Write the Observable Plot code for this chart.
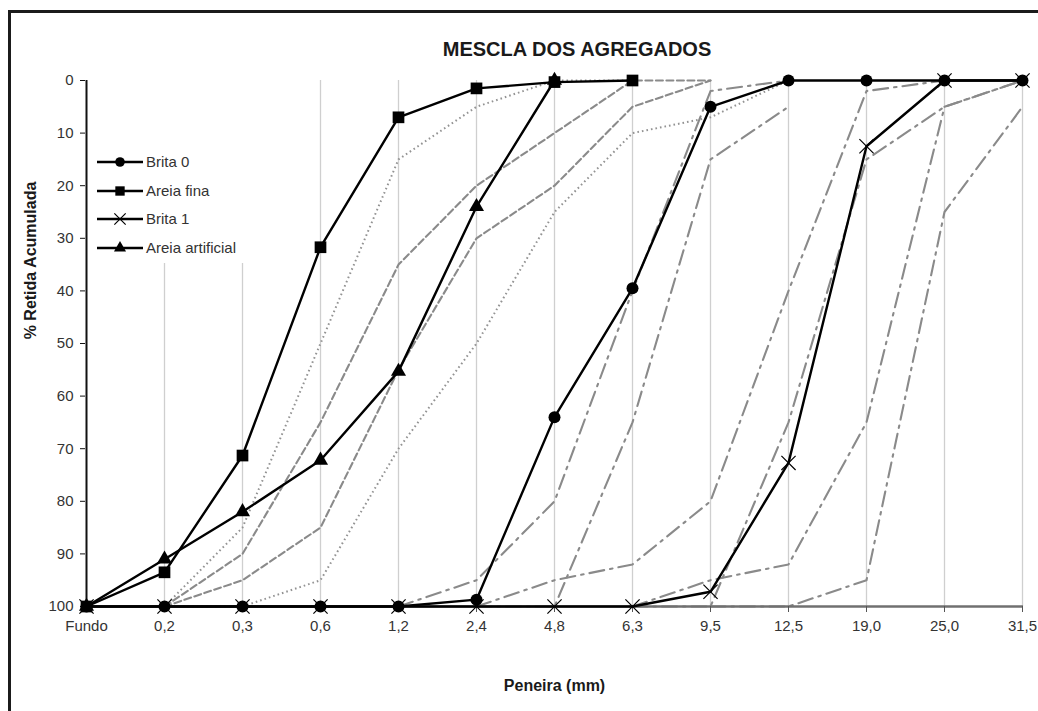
<!DOCTYPE html>
<html>
<head>
<meta charset="utf-8">
<script src="https://cdn.jsdelivr.net/npm/d3@7"></script>
<script src="https://cdn.jsdelivr.net/npm/@observablehq/plot@0.6"></script>
<style>
body{margin:0;background:#fff;font-family:"Liberation Sans",Arial,sans-serif;}
#wrap{position:relative;width:1038px;height:711px;overflow:hidden;background:#fff;}
#frame{position:absolute;left:8px;top:10px;width:1200px;height:900px;border:3px solid #1b1b1b;pointer-events:none;z-index:3;}
#title{box-sizing:border-box;width:1038px;height:64px;padding-top:39px;padding-left:116px;text-align:center;font-size:20px;line-height:20px;font-weight:bold;color:#1a1a1a;}
#legend{position:absolute;left:90px;top:80px;width:165px;height:183px;background:#fff;z-index:2;}
</style>
</head>
<body>
<div id="wrap">
  <div id="frame"></div>
  <div id="title">MESCLA DOS AGREGADOS</div>
  <div id="chart"></div>
  <div id="legend"></div>
</div>
<script>
// Categories (sieves) and axis ticks
const peneiras = ["Fundo", "0,2", "0,3", "0,6", "1,2", "2,4", "4,8", "6,3", "9,5", "12,5", "19,0", "25,0", "31,5"];
const yTicks = [0, 10, 20, 30, 40, 50, 60, 70, 80, 90, 100];
const titleX = "Peneira (mm)";
const titleY = "% Retida Acumulada";

// Measured materials (% retida acumulada)
const brita0          = [100, 100, 100, 100, 100, 98.7, 64, 39.5, 5, 0, 0, 0, 0];
const areiaFina       = [100, 93.5, 71.3, 31.7, 7, 1.5, 0.3, 0, null, null, null, null, null];
const brita1          = [100, 100, 100, 100, 100, 100, 100, 100, 97.2, 72.7, 12.5, 0, 0];
const areiaArtificial = [100, 91, 82, 72.2, 55.3, 24, 0, null, null, null, null, null, null];

// Fine aggregate limits (dotted = utilizável, dashed = ótima)
const finoInfUtil  = [null, 100, 85, 50, 15, 5, 0, 0, null, null, null, null, null];
const finoInfOtima = [null, 100, 90, 65, 35, 20, 10, 0, 0, null, null, null, null];
const finoSupOtima = [null, 100, 95, 85, 55, 30, 20, 5, 0, null, null, null, null];
const finoSupUtil  = [null, 100, 100, 95, 70, 50, 25, 10, 7, 0, null, null, null];

// Coarse aggregate limits (dash-dot)
const z1Inf = [null, null, null, null, 100, 95, 80, 40, 2, 0, null, null, null];
const z1Sup = [null, null, null, null, null, 100, 100, 65, 15, 5, null, null, null];
const z2Inf = [null, null, null, null, null, 100, 95, 92, 80, 40, 2, 0, null];
const z2Sup = [null, null, null, null, null, null, null, 100, 100, 65, 15, 5, 0];
const z3Inf = [null, null, null, null, null, null, null, 100, 95, 92, 65, 5, 0];
const z3Sup = [null, null, null, null, null, null, null, null, 100, 100, 95, 25, 5];

const series = [
  {name: "Brita 0", values: brita0, symbol: "circle", r: 6},
  {name: "Areia fina", values: areiaFina, symbol: "square", r: 6.6},
  {name: "Brita 1", values: brita1, symbol: "times", r: 6.5},
  {name: "Areia artificial", values: areiaArtificial, symbol: "triangle", r: 5.6}
];

const rows = (values) => peneiras.map((p, i) => ({peneira: p, retida: values[i]}));
const pts = (values) => rows(values).filter(d => d.retida != null);

const gray = "#8a8a8a";
const dotStyle = {stroke: "#939393", strokeWidth: 2, strokeDasharray: "1.6,3", strokeLinecap: "butt"};
const dashStyle = {stroke: gray, strokeWidth: 2.1, strokeDasharray: "7,3.5"};
const dashDotStyle = {stroke: gray, strokeWidth: 2.1, strokeDasharray: "15,6,2.5,6"};

const grayLines = [
  [finoInfUtil, dotStyle], [finoSupUtil, dotStyle],
  [finoInfOtima, dashStyle], [finoSupOtima, dashStyle],
  [z1Inf, dashDotStyle], [z1Sup, dashDotStyle],
  [z2Inf, dashDotStyle], [z2Sup, dashDotStyle],
  [z3Inf, dashDotStyle], [z3Sup, dashDotStyle]
].map(([v, s]) => Plot.line(rows(v), {x: "peneira", y: "retida", ...s}));

const blackLines = series.map(s => Plot.line(rows(s.values), {x: "peneira", y: "retida", stroke: "#000", strokeWidth: 2.4}));

const markerOrder = [series[2], series[0], series[3], series[1]];
const markers = markerOrder.map(s => s.symbol === "times"
  ? Plot.dot(pts(s.values), {x: "peneira", y: "retida", symbol: "times", r: s.r, stroke: "#000", strokeWidth: 1.2, fill: "none"})
  : Plot.dot(pts(s.values), {x: "peneira", y: "retida", symbol: s.symbol, r: s.r, fill: "#000", stroke: "none"}));

const chart = Plot.plot({
  width: 1038,
  height: 647,
  marginTop: 16,
  marginBottom: 105,
  marginLeft: 85,
  marginRight: 15,
  style: {fontFamily: "'Liberation Sans', Arial, sans-serif", background: "transparent", color: "#222", overflow: "visible"},
  x: {type: "point", domain: peneiras, padding: 0},
  y: {domain: [0, 100], reverse: true},
  marks: [
    Plot.ruleX(peneiras.slice(1), {stroke: "#cfcfcf", strokeWidth: 1.3}),
    ...grayLines,
    Plot.ruleY([100], {stroke: "#707070", strokeWidth: 2.6}),
    Plot.ruleX([peneiras[0]], {stroke: "#111", strokeWidth: 2}),
    Plot.axisY({ticks: yTicks, tickSize: 5, tickPadding: 7, fontSize: 15, label: null, stroke: "#111", fill: "#333"}),
    Plot.axisX({tickSize: 6, tickPadding: 8, fontSize: 15, label: null, stroke: "#555", fill: "#333"}),
    ...blackLines,
    ...markers,
    Plot.text([titleY], {frameAnchor: "top-left", dx: -55, dy: 180, rotate: -90, textAnchor: "middle", lineAnchor: "middle", fontWeight: "bold", fontSize: 16, fill: "#1a1a1a"}),
    Plot.text([titleX], {frameAnchor: "bottom", dy: 79, textAnchor: "middle", lineAnchor: "middle", fontWeight: "bold", fontSize: 16, fill: "#1a1a1a"})
  ]
});
document.getElementById("chart").appendChild(chart);

// Legend
const leg = d3.select("#legend").append("svg").attr("width", 165).attr("height", 183)
  .style("font-family", "'Liberation Sans', Arial, sans-serif");
const legY = [82, 111, 139, 168];
series.forEach((s, i) => {
  const g = leg.append("g").attr("transform", `translate(0,${legY[i]})`);
  g.append("line").attr("x1", 7).attr("x2", 53).attr("y1", 0).attr("y2", 0).attr("stroke", "#000").attr("stroke-width", 2.4);
  const sym = {circle: d3.symbolCircle, square: d3.symbolSquare, times: d3.symbolTimes, triangle: d3.symbolTriangle}[s.symbol];
  const size = Math.PI * (s.r * 0.8) * (s.r * 0.8);
  const p = g.append("path").attr("transform", "translate(30,0)").attr("d", d3.symbol(sym, size)());
  if (s.symbol === "times") p.attr("fill", "none").attr("stroke", "#000").attr("stroke-width", 1.2);
  else p.attr("fill", "#000");
  g.append("text").attr("x", 56).attr("y", 0).attr("dy", "0.35em").attr("font-size", 15).attr("fill", "#333").text(s.name);
});
</script>
</body>
</html>
